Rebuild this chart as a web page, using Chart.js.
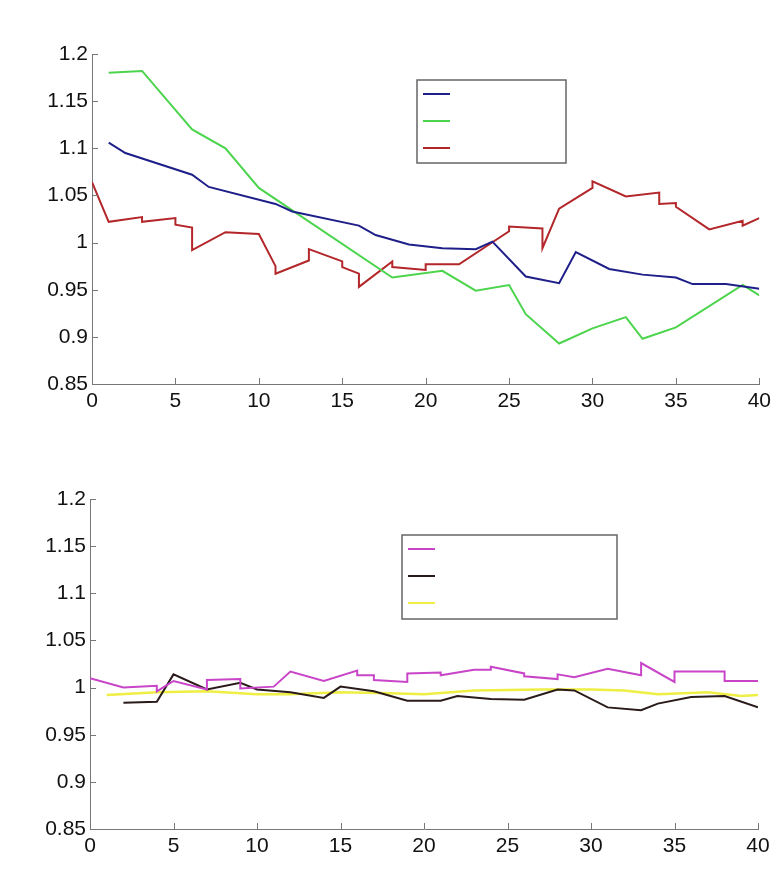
<!DOCTYPE html>
<html>
<head>
<meta charset="utf-8">
<script src="https://cdn.jsdelivr.net/npm/chart.js@4"></script>
<style>
  body { margin: 0; background: #fff; }
  canvas { display: block; }
</style>
</head>
<body>
<canvas id="topChart" width="776" height="440"></canvas>
<canvas id="bottomChart" width="776" height="440"></canvas>
<script>
// axis ticks (same for both panels)
const xTicks = [0, 5, 10, 15, 20, 25, 30, 35, 40];
const yTicks = [0.85, 0.9, 0.95, 1, 1.05, 1.1, 1.15, 1.2];

// top panel series
const blueX = [1, 2, 6, 7, 11, 12, 16, 17, 19, 21, 23, 24, 26, 28, 29, 31, 33, 35, 36, 38, 40];
const blueY = [1.106, 1.095, 1.072, 1.059, 1.041, 1.033, 1.018, 1.008, 0.998, 0.994, 0.993, 1.001, 0.964, 0.957, 0.990, 0.972, 0.966, 0.963, 0.956, 0.956, 0.951];

const greenX = [1, 3, 6, 8, 10, 18, 21, 23, 25, 26, 28, 30, 32, 33, 35, 39, 40];
const greenY = [1.180, 1.182, 1.120, 1.100, 1.058, 0.963, 0.970, 0.949, 0.955, 0.924, 0.893, 0.909, 0.921, 0.898, 0.910, 0.955, 0.944];

const redX = [0, 1, 3, 3, 5, 5, 6, 6, 8, 10, 11, 11, 13, 13, 15, 15, 16, 16, 18, 18, 20, 20, 22, 25, 25, 27, 27, 28, 30, 30, 32, 34, 34, 35, 35, 37, 39, 39, 40];
const redY = [1.064, 1.022, 1.027, 1.022, 1.026, 1.019, 1.016, 0.992, 1.011, 1.009, 0.975, 0.967, 0.981, 0.993, 0.980, 0.974, 0.967, 0.953, 0.980, 0.974, 0.971, 0.977, 0.977, 1.012, 1.017, 1.015, 0.994, 1.036, 1.058, 1.065, 1.049, 1.053, 1.041, 1.042, 1.038, 1.014, 1.023, 1.018, 1.026];

// bottom panel series
const magX = [0, 2, 4, 4, 5, 7, 7, 9, 9, 11, 12, 14, 16, 16, 17, 17, 19, 19, 21, 21, 23, 24, 24, 26, 26, 28, 28, 29, 31, 33, 33, 35, 35, 38, 38, 40];
const magY = [1.010, 1.000, 1.002, 0.996, 1.007, 0.998, 1.008, 1.009, 0.999, 1.001, 1.017, 1.007, 1.018, 1.013, 1.013, 1.008, 1.006, 1.015, 1.016, 1.013, 1.019, 1.019, 1.022, 1.015, 1.012, 1.009, 1.014, 1.011, 1.020, 1.013, 1.026, 1.006, 1.017, 1.017, 1.007, 1.007];

const blackX = [2, 4, 5, 7, 9, 10, 12, 14, 15, 17, 19, 21, 22, 24, 26, 28, 29, 31, 33, 34, 36, 38, 40];
const blackY = [0.984, 0.985, 1.014, 0.998, 1.005, 0.998, 0.995, 0.989, 1.001, 0.996, 0.986, 0.986, 0.991, 0.988, 0.987, 0.998, 0.997, 0.979, 0.976, 0.983, 0.990, 0.991, 0.979];

const yellowX = [1, 4, 7, 10, 12, 15, 18, 20, 23, 27, 30, 32, 34, 37, 39, 40];
const yellowY = [0.992, 0.995, 0.996, 0.993, 0.993, 0.995, 0.994, 0.993, 0.997, 0.998, 0.998, 0.997, 0.993, 0.995, 0.991, 0.992];

const axisColor = "#777";

function toPoints(xs, ys) {
  return xs.map((x, i) => ({ x: x, y: ys[i] }));
}

function series(xs, ys, color, width) {
  return {
    data: toPoints(xs, ys),
    borderColor: color,
    backgroundColor: color,
    borderWidth: width || 2,
    pointRadius: 0,
    tension: 0,
    fill: false,
  };
}

// matlab style ticks pointing into the plot
const inwardTicks = {
  id: "inwardTicks",
  afterDraw(chart) {
    const ctx = chart.ctx;
    const area = chart.chartArea;
    ctx.save();
    ctx.strokeStyle = axisColor;
    ctx.lineWidth = 1;
    ctx.beginPath();
    chart.scales.x.ticks.forEach((t) => {
      const px = Math.round(chart.scales.x.getPixelForValue(t.value)) + 0.5;
      ctx.moveTo(px, area.bottom);
      ctx.lineTo(px, area.bottom - 6);
    });
    chart.scales.y.ticks.forEach((t) => {
      const py = Math.round(chart.scales.y.getPixelForValue(t.value)) + 0.5;
      ctx.moveTo(area.left, py);
      ctx.lineTo(area.left + 6, py);
    });
    ctx.stroke();
    ctx.restore();
  },
};

// legend box with line samples and no text, like the original
const boxLegend = {
  id: "boxLegend",
  afterDraw(chart, args, opts) {
    const ctx = chart.ctx;
    ctx.save();
    ctx.fillStyle = "#fff";
    ctx.fillRect(opts.left, opts.top, opts.width, opts.height);
    ctx.strokeStyle = "#666";
    ctx.lineWidth = 1.5;
    ctx.strokeRect(opts.left, opts.top, opts.width, opts.height);
    chart.data.datasets.forEach((ds, i) => {
      const y = opts.top + opts.firstY + i * opts.gap;
      ctx.strokeStyle = ds.borderColor;
      ctx.lineWidth = 2;
      ctx.beginPath();
      ctx.moveTo(opts.left + 6, y);
      ctx.lineTo(opts.left + 33, y);
      ctx.stroke();
    });
    ctx.restore();
  },
};

function buildPanel(id, datasets, area, legendBox) {
  const ctx = document.getElementById(id);
  new Chart(ctx, {
    type: "line",
    data: { datasets: datasets },
    plugins: [inwardTicks, boxLegend],
    options: {
      responsive: false,
      animation: false,
      layout: { padding: { top: area.top, right: 776 - area.right, bottom: 0, left: 0 } },
      plugins: {
        legend: { display: false },
        tooltip: { enabled: false },
        boxLegend: legendBox,
      },
      scales: {
        x: {
          type: "linear",
          min: xTicks[0],
          max: xTicks[xTicks.length - 1],
          afterFit: (scale) => { scale.height = 440 - area.bottom; },
          afterBuildTicks: (scale) => { scale.ticks = xTicks.map((v) => ({ value: v })); },
          ticks: {
            autoSkip: false,
            maxRotation: 0,
            padding: 5,
            color: "#111",
            font: { family: "Liberation Sans, Arial, sans-serif", size: 21 },
          },
          grid: { display: true, drawOnChartArea: false, drawTicks: false },
          border: { display: true, color: axisColor, width: 1 },
        },
        y: {
          min: yTicks[0],
          max: yTicks[yTicks.length - 1],
          afterFit: (scale) => { scale.width = area.left; },
          afterBuildTicks: (scale) => { scale.ticks = yTicks.map((v) => ({ value: v })); },
          ticks: {
            autoSkip: false,
            padding: 4,
            color: "#111",
            font: { family: "Liberation Sans, Arial, sans-serif", size: 21 },
            callback: (v) => String(Math.round(v * 100) / 100),
          },
          grid: { display: true, drawOnChartArea: false, drawTicks: false },
          border: { display: true, color: axisColor, width: 1 },
        },
      },
    },
  });
}

buildPanel(
  "topChart",
  [
    series(blueX, blueY, "#1f1f8a"),
    series(greenX, greenY, "#4cd44c"),
    series(redX, redY, "#b3262a"),
  ],
  { left: 92, right: 760, top: 54, bottom: 384 },
  { left: 417, top: 80, width: 149, height: 83, firstY: 14, gap: 27 }
);

buildPanel(
  "bottomChart",
  [
    series(magX, magY, "#c845c8"),
    series(blackX, blackY, "#2a1a1a"),
    series(yellowX, yellowY, "#eeee44", 2.5),
  ],
  { left: 90, right: 758, top: 59, bottom: 389 },
  { left: 402, top: 95, width: 215, height: 84, firstY: 14, gap: 27 }
);
</script>
</body>
</html>
